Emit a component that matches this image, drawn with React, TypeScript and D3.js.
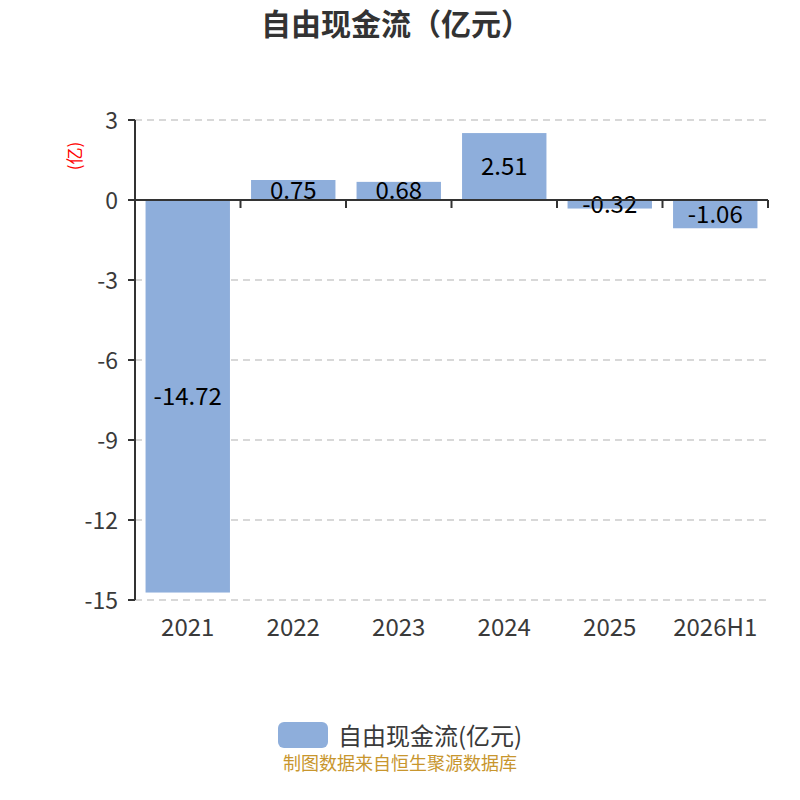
import React from "react";
import * as d3 from "d3";

const categories = ["2021", "2022", "2023", "2024", "2025", "2026H1"];
const values = [-14.72, 0.75, 0.68, 2.51, -0.32, -1.06];
const yTicks = [3, 0, -3, -6, -9, -12, -15];
const title = "自由现金流（亿元）";
const seriesName = "自由现金流(亿元)";
const yName = "(亿)";
const footer = "制图数据来自恒生聚源数据库";

const FONT = "'Noto Sans CJK SC', 'Open Sans', sans-serif";

export default function App() {
  const W = 800, H = 800;
  const left = 135, right = 768, top = 120, bottom = 600;
  const x = d3.scaleBand<string>().domain(categories).range([left, right]).paddingInner(0.2).paddingOuter(0.1);
  const xb = d3.scaleBand<string>().domain(categories).range([left, right]);
  const y = d3.scaleLinear().domain([-15, 3]).range([bottom, top]);
  const y0 = y(0);
  const axisColor = "#333";
  const textColor = "#3a3a3a";
  return (
    <svg width={W} height={H} style={{ position: "absolute", left: 0, top: 0 }} fontFamily={FONT}>
      <rect width={W} height={H} fill="#fff" />
      <text x={396} y={22} textAnchor="middle" dominantBaseline="central" fontSize={30} fontWeight="bold" fill="#333">{title}</text>
      {yTicks.filter(t => t !== 0).map(t => (
        <line key={"g" + t} x1={left} x2={right} y1={y(t)} y2={y(t)} stroke="#ccc" strokeWidth={1.5} strokeDasharray="7,5" />
      ))}
      {categories.map((c, i) => {
        const v = values[i];
        const y1 = Math.min(y(v), y0), y2 = Math.max(y(v), y0);
        return (
          <g key={c}>
            <rect x={x(c)} y={y1} width={x.bandwidth()} height={y2 - y1} fill="#8eaedb" />
            <text x={x(c)! + x.bandwidth() / 2} y={(y1 + y2) / 2 - 2} textAnchor="middle" dominantBaseline="central" fontSize={24} fill="#000">{v.toFixed(2)}</text>
          </g>
        );
      })}
      <line x1={left} x2={left} y1={top} y2={bottom} stroke={axisColor} strokeWidth={2} />
      {yTicks.map(t => (
        <g key={"t" + t}>
          <line x1={left - 7} x2={left} y1={y(t)} y2={y(t)} stroke={axisColor} strokeWidth={2} />
          <text x={left - 17} y={y(t) - 1} textAnchor="end" dominantBaseline="central" fontSize={23} fill={textColor}>{t}</text>
        </g>
      ))}
      <line x1={left} x2={right} y1={y0} y2={y0} stroke={axisColor} strokeWidth={2} />
      {[...categories.map(c => xb(c)!), right].map((px, i) => (
        <line key={"xt" + i} x1={px} x2={px} y1={y0} y2={y0 + 8} stroke={axisColor} strokeWidth={2} />
      ))}
      {categories.map(c => (
        <text key={"xl" + c} x={xb(c)! + xb.bandwidth() / 2} y={625} textAnchor="middle" dominantBaseline="central" fontSize={24} fill={textColor}>{c}</text>
      ))}
      <text transform={`translate(73,156) rotate(-90)`} textAnchor="middle" dominantBaseline="central" fontSize={17} fill="#ff0000">{yName}</text>
      <rect x={278} y={722} width={50} height={26} rx={6} fill="#8eaedb" />
      <text x={338} y={734} dominantBaseline="central" fontSize={24} fill={textColor}>{seriesName}</text>
      <text x={400} y={762} textAnchor="middle" dominantBaseline="central" fontSize={18} fill="#c8962e">{footer}</text>
    </svg>
  );
}
